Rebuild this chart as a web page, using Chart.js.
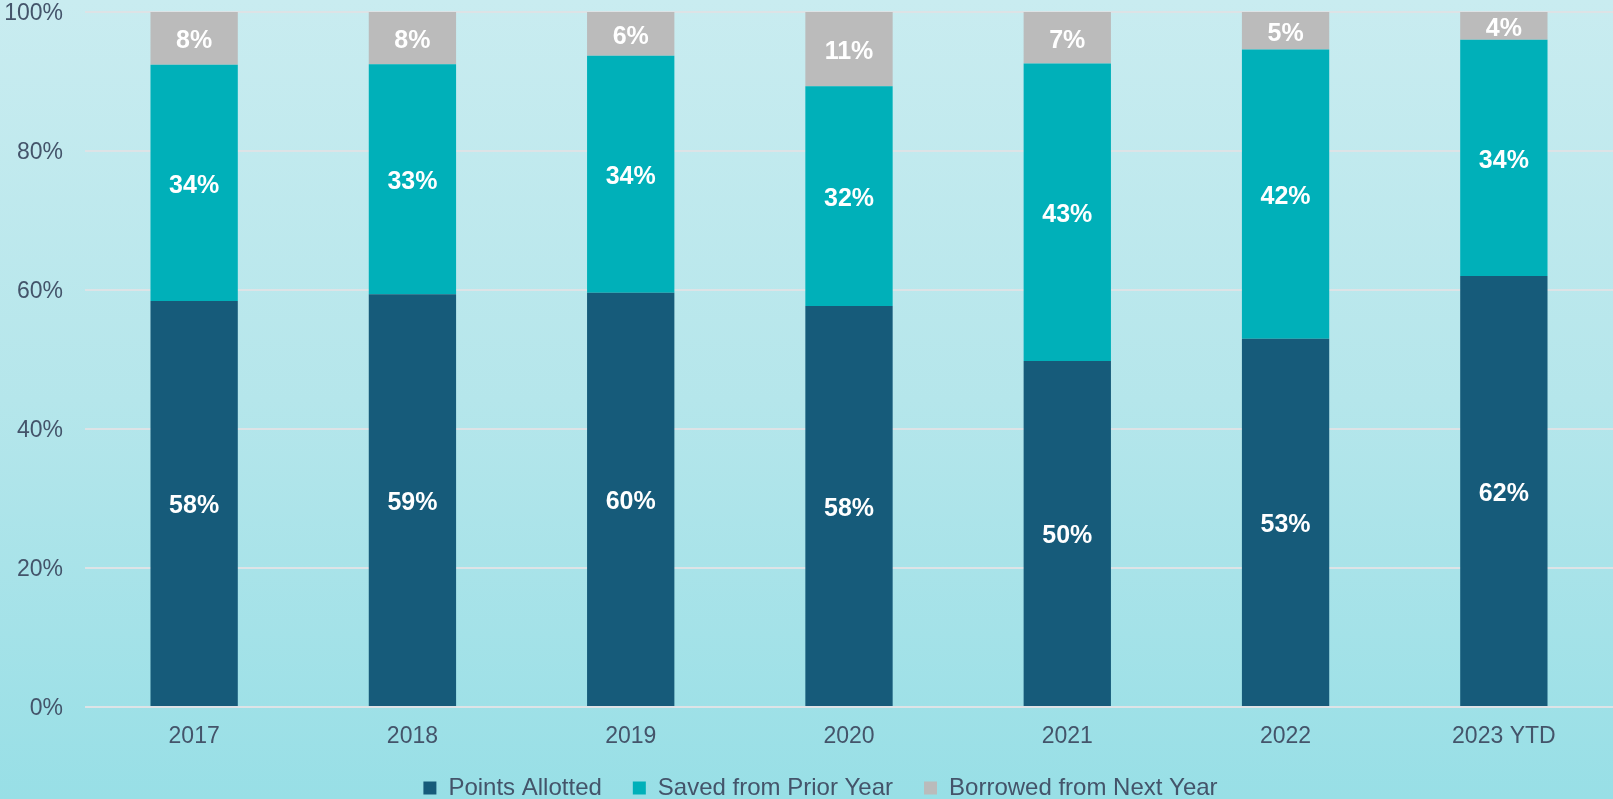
<!DOCTYPE html>
<html>
<head>
<meta charset="utf-8">
<script src="https://cdn.jsdelivr.net/npm/chart.js@4/dist/chart.umd.min.js"></script>
<style>
  html, body { margin: 0; padding: 0; }
  body {
    width: 1613px; height: 799px; overflow: hidden;
    background: linear-gradient(to bottom, #c9ecf0 0%, #b5e6eb 50%, #98dfe6 100%);
  }
  #wrap { position: relative; width: 1613px; height: 799px; }
</style>
</head>
<body>
<div id="wrap"><canvas id="c" width="1613" height="799"></canvas></div>
<script>
const categories = ['2017', '2018', '2019', '2020', '2021', '2022', '2023 YTD'];
const pointsAllotted = [58.4, 59.4, 59.6, 57.7, 49.8, 53.0, 62.0];
const savedFromPriorYear = [34.0, 33.1, 34.1, 31.6, 42.8, 41.6, 34.0];
const borrowedFromNextYear = [7.6, 7.5, 6.3, 10.7, 7.4, 5.4, 4.0];
const yTicks = [0, 20, 40, 60, 80, 100];

const textColor = '#44546A';
const FONT = "Arial, 'Liberation Sans', sans-serif";

const barLabels = {
  id: 'barLabels',
  afterDatasetsDraw(chart) {
    const ctx = chart.ctx;
    ctx.save();
    ctx.font = "bold 25px " + FONT;
    ctx.fillStyle = '#ffffff';
    ctx.textAlign = 'center';
    ctx.textBaseline = 'middle';
    chart.data.datasets.forEach((ds, i) => {
      const meta = chart.getDatasetMeta(i);
      meta.data.forEach((el, j) => {
        const v = ds.data[j];
        const cy = (el.y + el.base) / 2;
        ctx.fillText(Math.round(v) + '%', el.x, cy + 3);
      });
    });
    ctx.restore();
  }
};

const legendShift = {
  id: 'legendShift',
  afterLayout(chart) {
    if (chart.legend) { chart.legend.left += 14; chart.legend.right += 14; }
  }
};

new Chart(document.getElementById('c'), {
  type: 'bar',
  data: {
    labels: categories,
    datasets: [
      { label: 'Points Allotted', data: pointsAllotted, backgroundColor: '#165B7A' },
      { label: 'Saved from Prior Year', data: savedFromPriorYear, backgroundColor: '#00B0B9' },
      { label: 'Borrowed from Next Year', data: borrowedFromNextYear, backgroundColor: '#BBBBBB' }
    ]
  },
  options: {
    responsive: false,
    animation: false,
    devicePixelRatio: 1,
    layout: { padding: { left: 0, right: 0, top: 0, bottom: -11 } },
    datasets: { bar: { barPercentage: 0.4, categoryPercentage: 1.0 } },
    scales: {
      x: {
        stacked: true,
        grid: { display: false, drawTicks: false },
        border: { display: false },
        ticks: { color: textColor, font: { family: FONT, size: 23 }, padding: 16 },
        afterFit(s) { s.height = 38; }
      },
      y: {
        stacked: true,
        min: 0, max: 100,
        afterBuildTicks(scale) { scale.ticks = yTicks.map(v => ({ value: v })); },
        grid: { color: '#dde3e6', lineWidth: 2, drawTicks: false },
        border: { display: false },
        ticks: { color: textColor, font: { family: FONT, size: 23 }, padding: 22, labelOffset: 2, callback: v => v + '%' },
        afterFit(s) { s.width = 85; s.paddingTop = 12; s.paddingLeft = 0; }
      }
    },
    plugins: {
      tooltip: { enabled: false },
      legend: {
        position: 'bottom',
        labels: {
          color: textColor,
          font: { family: FONT, size: 24 },
          boxWidth: 13, boxHeight: 13,
          padding: 31
        }
      }
    }
  },
  plugins: [barLabels, legendShift]
});
</script>
</body>
</html>
